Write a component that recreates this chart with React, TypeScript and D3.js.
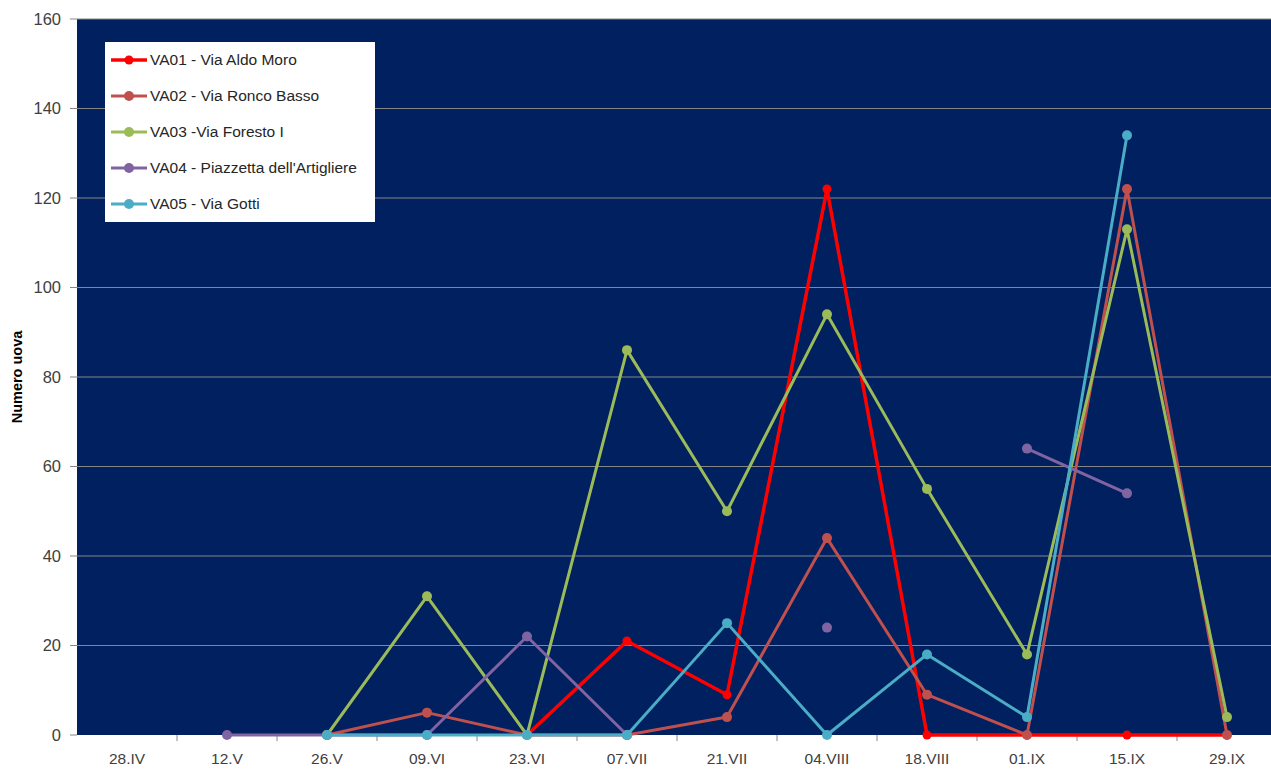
import * as d3 from 'd3';

const categories = ['28.IV', '12.V', '26.V', '09.VI', '23.VI', '07.VII', '21.VII', '04.VIII', '18.VIII', '01.IX', '15.IX', '29.IX'];

const va01 = [null, null, null, null, 0, 21, 9, 122, 0, 0, 0, 0];
const va02 = [null, null, 0, 5, 0, 0, 4, 44, 9, 0, 122, 0];
const va03 = [null, null, 0, 31, 0, 86, 50, 94, 55, 18, 113, 4];
const va04 = [null, 0, 0, 0, 22, 0, null, 24, null, 64, 54, null];
const va05 = [null, null, 0, 0, 0, 0, 25, 0, 18, 4, 134, null];

const yTicks = [0, 20, 40, 60, 80, 100, 120, 140, 160];

const series = [
  { name: 'VA01 - Via Aldo Moro', values: va01, color: '#ff0000', r: 4.5, w: 3.5 },
  { name: 'VA02 - Via Ronco Basso', values: va02, color: '#c0504d', r: 5, w: 3 },
  { name: 'VA03 -Via Foresto I', values: va03, color: '#9bbb59', r: 5, w: 3 },
  { name: "VA04 - Piazzetta dell'Artigliere", values: va04, color: '#8064a2', r: 5, w: 3 },
  { name: 'VA05 - Via Gotti', values: va05, color: '#4bacc6', r: 5, w: 3 },
];

const W = 1271;
const H = 769;
const left = 77;
const top = 19;
const plotW = 1200;
const bottom = 735;

export default function App() {
  const x = d3.scaleBand<string>().domain(categories).range([left, left + plotW]);
  const y = d3.scaleLinear().domain([0, 160]).range([bottom, top]);
  const cx = (c: string) => x(c)! + x.bandwidth() / 2;

  const line = d3
    .line<number | null>()
    .defined((d) => d !== null)
    .x((_, i) => cx(categories[i]))
    .y((d) => y(d as number));

  const font = "'Liberation Sans', Arial, sans-serif";

  return (
    <svg width={W} height={H} style={{ position: 'absolute', left: 0, top: 0 }} fontFamily={font}>
      <rect x={0} y={0} width={W} height={H} fill="#fff" />
      <rect x={left} y={top} width={plotW} height={bottom - top} fill="#002060" />

      {yTicks.map((t) => (
        <g key={t}>
          {t > 0 && <line x1={left} x2={left + plotW} y1={y(t)} y2={y(t)} stroke="#868686" strokeWidth={1} />}
          <line x1={left - 7} x2={left} y1={y(t)} y2={y(t)} stroke="#868686" strokeWidth={1} />
          <text x={61} y={y(t)} dy="0.35em" textAnchor="end" fontSize={16.5} fill="#404040">
            {t}
          </text>
        </g>
      ))}

      {categories.map((c, i) => (
        <g key={c}>
          {i > 0 && <line x1={x(c)!} x2={x(c)!} y1={bottom} y2={bottom + 6} stroke="#868686" strokeWidth={1} />}
          <text x={cx(c)} y={764} textAnchor="middle" fontSize={15.5} fill="#404040">
            {c}
          </text>
        </g>
      ))}

      <text
        transform={`translate(22,${(top + bottom) / 2}) rotate(-90)`}
        textAnchor="middle"
        fontSize={14.5}
        fontWeight="bold"
        fill="#000"
      >
        Numero uova
      </text>

      {series.map((s) => (
        <g key={s.name}>
          <path d={line(s.values) ?? ''} fill="none" stroke={s.color} strokeWidth={s.w} strokeLinejoin="round" />
          {s.values.map((v, i) =>
            v === null ? null : <circle key={i} cx={cx(categories[i])} cy={y(v)} r={s.r} fill={s.color} />
          )}
        </g>
      ))}

      <g>
        <rect x={105} y={42} width={270} height={180} fill="#fff" />
        {series.map((s, i) => {
          const ly = 60 + i * 36;
          return (
            <g key={s.name}>
              <line x1={111} x2={147} y1={ly} y2={ly} stroke={s.color} strokeWidth={s.w} />
              <circle cx={129} cy={ly} r={s.r} fill={s.color} />
              <text x={150} y={ly} dy="0.35em" fontSize={15.5} fill="#262626">
                {s.name}
              </text>
            </g>
          );
        })}
      </g>
    </svg>
  );
}
